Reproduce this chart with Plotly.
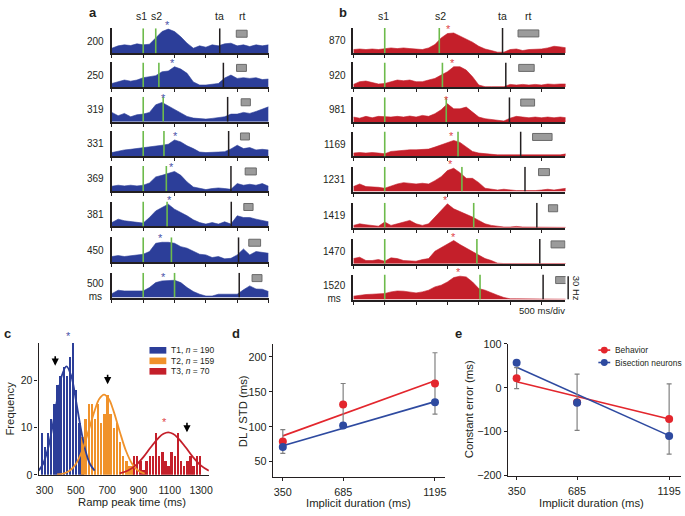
import plotly.graph_objects as go

W, H = 685, 516
FONT = "Liberation Sans, Arial, Helvetica, sans-serif"
INK = "#231f20"
BLUE = "#2c3e99"
STAR_BLUE = "#4b52a8"
RED = "#c41f2a"
STAR_RED = "#e0454a"
ORANGE = "#f0922b"
GREEN = "#6dbb4b"
BOX_FILL = "#9b9b9b"
BOX_LINE = "#6a6a6a"
PT_RED = "#e3262d"
PT_BLUE = "#2e4aa0"
ERR = "#808080"

# ---------------------------------------------------------------- data: panel a
S1_MS = 500
A_LABELS = ["200", "250", "319", "331", "369", "381", "450", "500<br>ms"]
A_DUR = [200, 250, 319, 331, 369, 381, 450, 500]
A_TA = [1721, 1779, 1847, 1863, 1900, 1905, 2021, 2032]
A_RT_LO = [1985, 1989, 2063, 2052, 2127, 2105, 2184, 2237]
A_RT_HI = [2158, 2147, 2210, 2195, 2305, 2253, 2373, 2395]
A_PEAK = [880, 963, 826, 1016, 953, 912, 774, 826]
A_TIME = [0, 100, 200, 300, 400, 500, 600, 700, 800, 900, 1000, 1100, 1200,
          1300, 1400, 1500, 1600, 1700, 1800, 1900, 2000, 2100, 2200, 2300, 2400, 2500]
A_RATE_200 = [6.4, 9.4, 10.7, 9.8, 12.0, 10.7, 11.5, 19.0, 27.8, 31.0, 27.8, 21.0, 12.8,
              6.4, 9.4, 7.7, 10.7, 9.4, 12.0, 12.8, 9.4, 10.7, 8.5, 10.7, 9.4, 10.7]
A_RATE_250 = [5.0, 7.0, 9.4, 8.0, 9.4, 12.4, 13.7, 15.0, 20.0, 21.0, 26.5, 23.5, 18.0,
              7.0, 3.0, 3.0, 4.0, 5.0, 12.0, 15.8, 11.5, 12.4, 11.5, 12.4, 10.0, 10.7]
A_RATE_319 = [12.0, 7.7, 10.7, 6.4, 9.0, 9.8, 12.0, 21.8, 24.8, 20.5, 16.2, 12.0, 6.8,
              4.7, 4.3, 3.4, 4.3, 5.5, 6.4, 9.8, 9.8, 12.0, 10.7, 13.2, 16.2, 19.2]
A_RATE_331 = [4.3, 6.4, 7.7, 8.5, 9.4, 10.7, 12.0, 12.8, 13.7, 15.0, 20.5, 18.0, 13.0,
              9.4, 5.0, 4.3, 4.3, 5.0, 5.5, 9.0, 13.7, 9.4, 10.7, 7.7, 8.5, 7.7]
A_RATE_369 = [6.0, 7.3, 6.4, 7.3, 6.4, 7.3, 10.2, 18.0, 20.0, 22.0, 25.0, 20.0, 11.5,
              5.0, 3.0, 1.7, 3.0, 3.8, 3.0, 2.0, 9.4, 7.3, 8.5, 7.3, 9.4, 6.0]
A_RATE_381 = [5.0, 9.4, 7.3, 6.0, 5.0, 4.3, 11.5, 20.0, 24.3, 28.6, 22.2, 18.0, 13.7,
              8.5, 5.0, 3.0, 5.0, 3.0, 6.0, 3.0, 13.7, 11.5, 11.5, 9.4, 7.3, 6.0]
A_RATE_450 = [7.3, 8.5, 7.3, 8.5, 9.4, 10.2, 13.7, 24.3, 25.6, 25.6, 24.3, 20.0, 18.0,
              13.7, 10.2, 9.4, 6.0, 7.3, 4.3, 5.0, 9.4, 17.0, 9.4, 13.7, 12.8, 11.5]
A_RATE_500 = [5.0, 9.4, 8.5, 8.5, 7.7, 8.5, 12.8, 19.2, 21.4, 21.4, 22.2, 19.2, 12.8,
              7.7, 4.3, 2.0, 2.0, 4.3, 4.3, 5.0, 4.3, 10.0, 15.0, 11.0, 10.7, 7.7]
A_RATES = [A_RATE_200, A_RATE_250, A_RATE_319, A_RATE_331,
           A_RATE_369, A_RATE_381, A_RATE_450, A_RATE_500]

# ---------------------------------------------------------------- data: panel b
B_LABELS = ["870", "920", "981", "1169", "1231", "1419", "1470", "1520<br>ms"]
B_DUR = [870, 920, 981, 1169, 1231, 1419, 1470, 1520]
B_TA = [2379, 2431, 2489, 2668, 2737, 2926, 2973, 3026]
B_RT_LO = [2626, 2637, 2669, 2858, 2953, 3111, 3153, 3226]
B_RT_HI = [2958, 2884, 2890, 3169, 3127, 3258, 3374, 3411]
B_PEAK = [1516, 1584, 1479, 1558, 1542, 1463, 1595, 1674]
B_TIME = [0, 100, 200, 300, 400, 500, 600, 700, 800, 900, 1000, 1100, 1200, 1300,
          1400, 1500, 1600, 1700, 1800, 1900, 2000, 2100, 2200, 2300, 2400, 2500,
          2600, 2700, 2800, 2900, 3000, 3100, 3200, 3300, 3400]
B_RATE_870 = [4.3, 5.0, 4.3, 5.0, 4.3, 5.0, 6.4, 5.5, 6.4, 5.5, 5.0, 4.3, 6.4, 10.7,
              19.2, 24.8, 25.6, 21.4, 18.0, 13.7, 8.5, 5.0, 3.0, 0.9, 0.9, 4.3, 5.0,
              3.0, 4.3, 4.3, 5.0, 6.4, 8.5, 7.7, 6.4]
B_RATE_920 = [3.8, 7.3, 8.1, 6.4, 4.3, 5.0, 7.3, 9.4, 8.5, 9.4, 7.3, 7.3, 9.4, 11.5,
              15.8, 20.0, 26.5, 26.5, 22.2, 13.7, 3.0, 0.9, 0.9, 0.9, 0.9, 3.8, 3.0,
              3.8, 3.0, 3.8, 3.0, 4.3, 3.8, 4.3, 4.3]
B_RATE_981 = [6.4, 5.0, 7.3, 5.5, 7.3, 6.4, 6.4, 7.3, 6.4, 7.7, 6.4, 8.5, 7.3, 10.7,
              15.8, 23.5, 17.0, 17.0, 19.2, 12.8, 6.4, 4.3, 3.0, 2.1, 1.3, 5.0, 7.3,
              6.4, 5.5, 6.4, 5.5, 6.4, 5.5, 6.4, 5.5]
B_RATE_1169 = [4.3, 5.0, 4.3, 5.0, 4.3, 3.4, 6.4, 7.3, 7.7, 8.5, 8.5, 9.4, 9.4, 12.0,
               15.0, 18.0, 20.5, 18.0, 12.0, 6.4, 4.3, 3.4, 2.0, 2.0, 2.0, 2.0, 2.0,
               2.0, 2.0, 2.0, 2.0, 2.0, 2.0, 2.0, 3.4]
B_RATE_1231 = [6.4, 9.8, 6.4, 6.4, 5.5, 4.3, 7.3, 9.8, 11.5, 10.7, 9.8, 10.7, 9.8, 14.0,
               19.2, 27.0, 30.0, 24.3, 17.0, 17.0, 11.5, 4.3, 3.0, 2.0, 3.0, 2.0, 1.3,
               1.3, 0.9, 1.3, 2.0, 3.0, 2.0, 3.0, 4.3]
B_RATE_1419 = [3.0, 5.0, 3.8, 3.0, 2.0, 7.3, 3.0, 5.0, 7.3, 9.4, 5.0, 3.0, 5.0, 13.7,
               22.2, 30.7, 24.3, 21.0, 18.0, 13.7, 9.4, 5.0, 3.0, 1.7, 0.9, 0.9, 1.7,
               0.9, 0.9, 0.9, 0.9, 0.4, 0.4, 0.4, 0.4]
B_RATE_1470 = [6.8, 8.5, 4.3, 4.3, 5.5, 3.4, 7.7, 6.8, 4.3, 4.3, 3.4, 5.5, 6.8, 16.2,
               20.5, 24.8, 30.0, 24.8, 20.5, 16.2, 11.0, 6.8, 4.3, 0.9, 0.4, 0.4, 0.4,
               0.4, 0.4, 0.4, 1.3, 0.4, 0.4, 0.4, 0.4]
B_RATE_1520 = [4.3, 5.5, 6.4, 6.8, 7.7, 7.7, 9.8, 11.0, 10.7, 9.8, 8.5, 9.8, 12.0, 16.2,
               18.4, 22.6, 28.2, 30.0, 29.0, 22.6, 14.0, 12.0, 8.5, 5.5, 2.6, 0.9, 0.9,
               0.9, 0.4, 0.9, 1.3, 0.9, 0.4, 0.4, 0.4]
B_RATES = [B_RATE_870, B_RATE_920, B_RATE_981, B_RATE_1169,
           B_RATE_1231, B_RATE_1419, B_RATE_1470, B_RATE_1520]
SCALE_HZ = 30

# ---------------------------------------------------------------- data: panel c
C_T1_X = [280, 300, 320, 340, 360, 380, 400, 420, 440, 460, 480, 500, 520, 540]
C_T1_Y = [9, 6, 9, 12, 15, 19, 21, 23, 21, 25, 28, 18, 11, 5]
C_T2_X = [540, 560, 580, 600, 620, 640, 660, 680, 700, 720, 740, 760, 780, 800, 820, 840, 860]
C_T2_Y = [8, 12, 15, 15, 12, 15, 11, 13, 17, 13, 10, 11, 7, 4, 3, 2, 2]
C_T3_X = [870, 890, 910, 930, 950, 970, 990, 1010, 1030, 1050, 1070, 1090, 1110,
          1130, 1150, 1170, 1190, 1210, 1230, 1250, 1270, 1290]
C_T3_Y = [4, 4, 3, 1, 3, 4, 4, 9, 4, 5, 3, 2, 5, 4, 9, 3, 2, 3, 4, 2, 4, 4]
C_FIT1_X = [262, 290, 320, 350, 380, 410, 440, 470, 500, 530, 560, 590, 620]
C_FIT1_Y = [0.9, 2.3, 5.3, 10.1, 15.9, 21.0, 23.0, 21.0, 15.9, 10.1, 5.3, 2.3, 0.9]
C_FIT2_X = [380, 420, 460, 500, 540, 580, 620, 650, 680, 710, 740, 780, 820, 860, 900, 940]
C_FIT2_Y = [0.07, 0.26, 0.85, 2.3, 5.1, 9.2, 13.6, 16.1, 17.0, 16.1, 13.6, 9.2, 5.1, 2.3, 0.85, 0.26]
C_FIT3_X = [780, 830, 880, 930, 980, 1030, 1060, 1090, 1120, 1150, 1200, 1250, 1300, 1350]
C_FIT3_Y = [0.32, 0.86, 1.95, 3.7, 5.9, 7.9, 8.7, 9.0, 8.7, 7.9, 5.9, 3.7, 1.95, 0.86]
C_NAMES = ["T1, <i>n</i> = 190", "T2, <i>n</i> = 159", "T3, <i>n</i> = 70"]
C_ARROW_X = [368, 703, 1210]
C_ARROW_Y = [23.1, 19.2, 9.0]
C_STAR_X = [456, 1068]
C_STAR_Y = [29.5, 11.2]
C_XTICKS = [300, 500, 700, 900, 1100, 1300]
C_YTICKS = [0, 10, 20]
C_YMAX = 28

# ---------------------------------------------------------------- data: panels d, e
DUR = [350, 685, 1195]
D_BEH = [79, 132, 162]
D_BEH_ERR = [17, 30, 44]
D_NEU = [71, 102, 135]
D_FIT_BEH = [87, 166]
D_FIT_NEU = [73, 136]
D_YTICKS = [50, 100, 150, 200]
E_BEH = [22, -33, -71]
E_BEH_ERR = [24, 64, 80]
E_NEU = [57, -34, -110]
E_FIT_BEH = [14, -71]
E_FIT_NEU = [47, -109]
E_YTICKS = [-200, -100, 0, 100]
E_NAMES = ["Behavior", "Bisection neurons"]

# ---------------------------------------------------------------- helpers
def xdom(x0, x1):
    return [x0 / W, x1 / W]


def ydom(top, bottom):
    return [1 - bottom / H, 1 - top / H]


def px(x):
    return x / W


def py(y):
    return 1 - y / H


def sfx(n):
    return "" if n == 1 else str(n)


fig = go.Figure()
layout = {}
shapes = []
annos = []


def text(x, y, s, size=10, xanchor="center", yanchor="middle", color=INK, angle=0,
         xref="paper", yref="paper", **kw):
    annos.append(dict(x=x, y=y, text=s, xref=xref, yref=yref, showarrow=False,
                      xanchor=xanchor, yanchor=yanchor, textangle=angle,
                      font=dict(family=FONT, size=size, color=color), **kw))


# ---------------------------------------------------------------- panels a, b
A_X = (110, 268.3)
B_X = (354, 568.3)
A_BASE = [48.3, 83.3, 118.5, 153.5, 189.3, 225.7, 262.3, 298.5]
B_BASE = [48.0, 83.3, 118.8, 154.0, 190.0, 227.0, 264.0, 300.5]
ROW_H = 25.5
Y_MAX = 32


def raster_panel(first_n, xr, bases, xmax, tickvals, times, rates, durs, tas, rlo, rhi,
                 peaks, labels, label_x, color, star_color):
    for i in range(8):
        n = first_n + i
        s = sfx(n)
        layout["xaxis" + s] = dict(domain=xdom(*xr), range=[0, xmax], anchor="y" + s,
                                   showline=True, linecolor=INK, linewidth=2,
                                   ticks="outside", ticklen=3, tickwidth=1.3, tickcolor=INK,
                                   tickvals=tickvals, showticklabels=False, showgrid=False,
                                   zeroline=False, fixedrange=True)
        layout["yaxis" + s] = dict(domain=ydom(bases[i] - ROW_H, bases[i]), range=[0, Y_MAX],
                                   anchor="x" + s, showline=True, linecolor=INK, linewidth=1.5,
                                   ticks="", showticklabels=False, showgrid=False,
                                   zeroline=False, fixedrange=True)
        fig.add_trace(go.Scatter(x=times, y=rates[i], xaxis="x" + s, yaxis="y" + s,
                                 mode="lines", line=dict(color=color, width=0.6),
                                 fill="tozeroy", fillcolor=color, hoverinfo="skip",
                                 showlegend=False))
        for t in (S1_MS, S1_MS + durs[i]):
            shapes.append(dict(type="line", xref="x" + s, yref="y" + s, x0=t, x1=t,
                               y0=0, y1=Y_MAX, line=dict(color=GREEN, width=1.6)))
        shapes.append(dict(type="line", xref="x" + s, yref="y" + s, x0=tas[i], x1=tas[i],
                           y0=0, y1=Y_MAX, line=dict(color=INK, width=1.5)))
        shapes.append(dict(type="rect", xref="x" + s, yref="y" + s, x0=rlo[i], x1=rhi[i],
                           y0=20.5, y1=29.5, fillcolor=BOX_FILL,
                           line=dict(color=BOX_LINE, width=1)))
        # star above the ramp peak
        win = [v for t, v in zip(times, rates[i]) if abs(t - peaks[i]) <= 150]
        annos.append(dict(x=peaks[i], y=max(win), xref="x" + s, yref="y" + s, text="*",
                          showarrow=False, yanchor="bottom", yshift=-4,
                          font=dict(family=FONT, size=11, color=star_color)))
        lab_y = 15.5 if "<br>" not in labels[i] else 10.0
        text(px(label_x), lab_y, labels[i], size=10, xanchor="right", yref="y" + s)
    # header labels
    s = sfx(first_n)
    hy = py(10.7)
    text(S1_MS, hy, "s1", size=10.5, xref="x" + s, xshift=-1.5)
    text(S1_MS + durs[0], hy, "s2", size=10.5, xref="x" + s, xshift=1)
    text(tas[0], hy, "ta", size=10.5, xref="x" + s)
    text((rlo[0] + rhi[0]) / 2, hy, "rt", size=10.5, xref="x" + s)


raster_panel(1, A_X, A_BASE, 2500, [0, 500, 1000, 1500, 2000, 2500], A_TIME, A_RATES,
             A_DUR, A_TA, A_RT_LO, A_RT_HI, A_PEAK, A_LABELS, 104.5, BLUE, STAR_BLUE)
raster_panel(9, B_X, B_BASE, 3383, [0, 500, 1000, 1500, 2000, 2500, 3000], B_TIME, B_RATES,
             B_DUR, B_TA, B_RT_LO, B_RT_HI, B_PEAK, B_LABELS, 349, RED, STAR_RED)

# scale bar (30 Hz) and time scale text for panel b
shapes.append(dict(type="line", xref="paper", yref="y16", x0=px(571), x1=px(571),
                   y0=0, y1=SCALE_HZ, line=dict(color=INK, width=1.5)))
text(px(579), SCALE_HZ / 2, "30 Hz", size=9.5, angle=90, yref="y16")
text(px(545), py(311.5), "500 ms/div", size=9.5)

# ---------------------------------------------------------------- panel c
layout["xaxis17"] = dict(domain=xdom(36, 208), range=[262, 1350], anchor="y17",
                         showline=True, linecolor=INK, linewidth=1.3, ticks="",
                         tickvals=C_XTICKS, showgrid=False, zeroline=False,
                         ticklabelstandoff=5,
                         tickfont=dict(family=FONT, size=10.5, color=INK), fixedrange=True)
layout["yaxis17"] = dict(domain=ydom(344.7, 480), range=[0, C_YMAX], anchor="x17",
                         showline=True, linecolor=INK, linewidth=1.3, ticks="outside",
                         ticklen=3, tickwidth=1.2, tickcolor=INK, tickvals=C_YTICKS,
                         showgrid=False, zeroline=False,
                         tickfont=dict(family=FONT, size=10.5, color=INK), fixedrange=True)
C_COLORS = [BLUE, ORANGE, RED]
for xs, ys, col in ((C_T1_X, C_T1_Y, BLUE), (C_T2_X, C_T2_Y, ORANGE), (C_T3_X, C_T3_Y, RED)):
    fig.add_trace(go.Bar(x=xs, y=ys, width=15.5, marker=dict(color=col, line=dict(width=0)),
                         xaxis="x17", yaxis="y17", showlegend=False, hoverinfo="skip"))
for xs, ys, col in ((C_FIT1_X, C_FIT1_Y, BLUE), (C_FIT2_X, C_FIT2_Y, ORANGE),
                    (C_FIT3_X, C_FIT3_Y, RED)):
    fig.add_trace(go.Scatter(x=xs, y=ys, mode="lines", line=dict(color=col, width=1.8, shape="spline"),
                             xaxis="x17", yaxis="y17", showlegend=False, hoverinfo="skip"))
for x, y in zip(C_ARROW_X, C_ARROW_Y):
    annos.append(dict(x=x, y=y, xref="x17", yref="y17", text="", showarrow=True,
                      ax=0, ay=-11, arrowhead=2, arrowsize=0.9, arrowwidth=1.6,
                      arrowcolor="#000000"))
for x, y, col in zip(C_STAR_X, C_STAR_Y, [STAR_BLUE, STAR_RED]):
    # domain reference so that a star above the top of the axis is still drawn
    text(x, y / C_YMAX, "*", size=11, color=col, xref="x17", yref="y17 domain")
# legend for c
for i, (name, col) in enumerate(zip(C_NAMES, C_COLORS)):
    yc = [352.5, 363.3, 374.0][i]
    shapes.append(dict(type="rect", xref="paper", yref="paper", x0=px(148), x1=px(165),
                       y0=py(yc + 3.4), y1=py(yc - 3.4), fillcolor=col, line=dict(width=0)))
    text(px(167.5), py(yc), name, size=8.5, xanchor="left")
text(px(130.7), py(508), "Ramp peak time (ms)", size=11.3)
text(px(7.5), py(411.7), "Frequency", size=11.3, angle=-90)

# ---------------------------------------------------------------- panels d, e
def line_axes(n, xd, yd, xr, yr, ytick):
    s = str(n)
    common = dict(showline=True, linecolor=INK, linewidth=1.3, ticks="outside", ticklen=3,
                  tickwidth=1.2, tickcolor=INK, showgrid=False, zeroline=False,
                  tickfont=dict(family=FONT, size=10.8, color=INK), fixedrange=True)
    layout["xaxis" + s] = dict(domain=xd, range=xr, anchor="y" + s, tickvals=DUR,
                               ticklabelstandoff=2, **common)
    layout["yaxis" + s] = dict(domain=yd, range=yr, anchor="x" + s, tickvals=ytick, **common)


def line_panel(n, beh, err, neu, fit_beh, fit_neu):
    s = str(n)
    fig.add_trace(go.Scatter(x=[DUR[0], DUR[-1]], y=fit_beh, mode="lines",
                             line=dict(color=PT_RED, width=1.6), xaxis="x" + s, yaxis="y" + s,
                             showlegend=False, hoverinfo="skip"))
    fig.add_trace(go.Scatter(x=[DUR[0], DUR[-1]], y=fit_neu, mode="lines",
                             line=dict(color=PT_BLUE, width=1.6), xaxis="x" + s, yaxis="y" + s,
                             showlegend=False, hoverinfo="skip"))
    fig.add_trace(go.Scatter(x=DUR, y=beh, mode="markers",
                             marker=dict(color=PT_RED, size=8, line=dict(width=0)),
                             error_y=dict(type="data", array=err, color=ERR, thickness=1.2, width=2.5),
                             xaxis="x" + s, yaxis="y" + s, showlegend=False, hoverinfo="skip"))
    fig.add_trace(go.Scatter(x=DUR, y=neu, mode="markers",
                             marker=dict(color=PT_BLUE, size=8, line=dict(width=0)),
                             xaxis="x" + s, yaxis="y" + s, showlegend=False, hoverinfo="skip"))


line_axes(18, xdom(272.7, 447), ydom(346, 482.3), [295, 1253], [28, 218.6], D_YTICKS)
line_panel(18, D_BEH, D_BEH_ERR, D_NEU, D_FIT_BEH, D_FIT_NEU)
text(px(359), py(509), "Implicit duration (ms)", size=11.3)
text(px(243.3), py(415), "DL / STD (ms)", size=11.3, angle=-90)

line_axes(19, xdom(510, 684.5), ydom(346, 480.7), [301, 1258], [-200, 100], E_YTICKS)
line_panel(19, E_BEH, E_BEH_ERR, E_NEU, E_FIT_BEH, E_FIT_NEU)
text(px(595), py(509), "Implicit duration (ms)", size=11.3)
text(px(471.7), py(413), "Constant error (ms)", size=11.3, angle=-90)
for i, (name, col) in enumerate(zip(E_NAMES, [PT_RED, PT_BLUE])):
    yc = [352.3, 365.0][i]
    shapes.append(dict(type="line", xref="paper", yref="paper", x0=px(601.5), x1=px(613.5),
                       y0=py(yc), y1=py(yc), line=dict(color=col, width=1.6)))
    shapes.append(dict(type="circle", xref="paper", yref="paper", x0=px(604), x1=px(611),
                       y0=py(yc + 3.5), y1=py(yc - 3.5), fillcolor=col, line=dict(width=0)))
    text(px(616), py(yc), name, size=8.4, xanchor="left")

# ---------------------------------------------------------------- panel letters
for lab, x, y in (("a", 91, 6.5), ("b", 344, 6.5), ("c", 5, 335.5), ("d", 235, 335.5), ("e", 460, 335.5)):
    text(px(x), py(y), "<b>" + lab + "</b>", size=13)

layout.update(dict(width=W, height=H, margin=dict(l=0, r=0, t=0, b=0),
                   paper_bgcolor="white", plot_bgcolor="white", barmode="overlay",
                   bargap=0, showlegend=False, shapes=shapes, annotations=annos,
                   font=dict(family=FONT, color=INK)))
fig.update_layout(**layout)
fig.write_html("out.html", config={"displayModeBar": False},
               post_script="document.body.style.margin='0px';document.body.style.overflow='hidden';")
